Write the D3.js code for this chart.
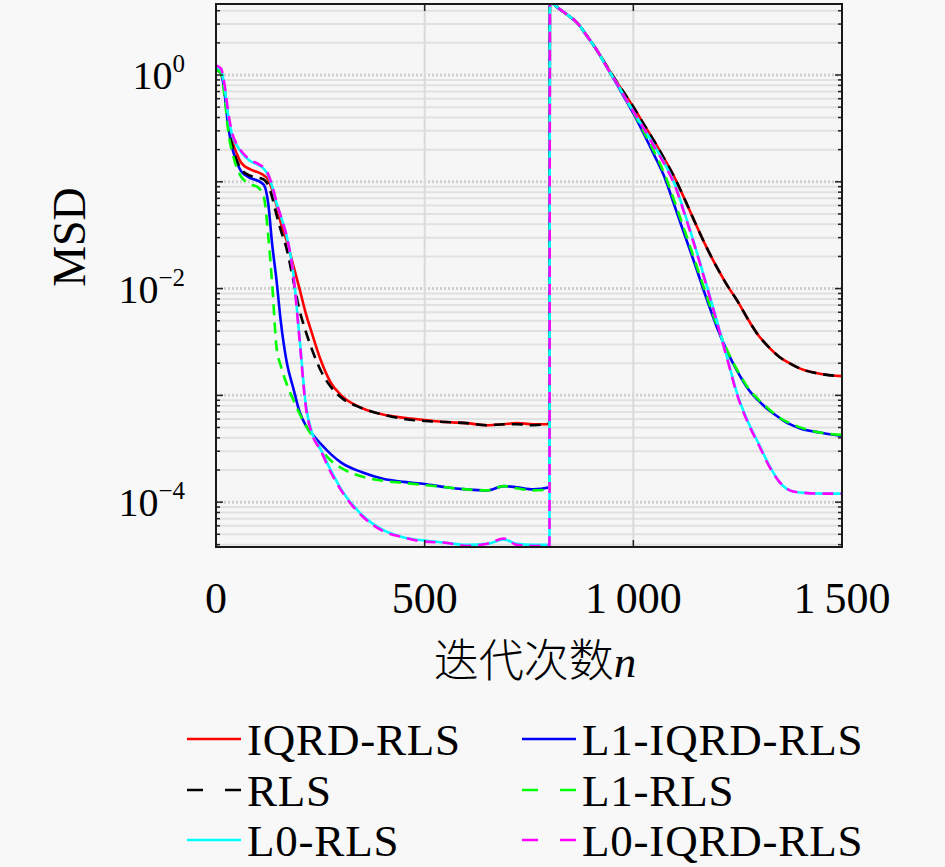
<!DOCTYPE html>
<html>
<head>
<meta charset="utf-8">
<script src="https://cdn.jsdelivr.net/npm/d3@7"></script>
<style>
  body { margin: 0; background: #f8f8f8; }
  svg { display: block; }
</style>
</head>
<body>
<div id="chart"></div>
<script>
const iterations = [0, 12, 20, 30, 40, 50, 60, 80, 100, 115, 125, 135, 145, 155, 170, 185, 200, 215, 230, 250, 275, 300, 350, 400, 450, 500, 550, 600, 650, 690, 720, 760, 799,
  800, 810, 840, 865, 890, 913, 940, 961, 980, 1000, 1025, 1050, 1075, 1100, 1125, 1150, 1175, 1200, 1225, 1250, 1275, 1300, 1325, 1350, 1375, 1400, 1450, 1500];

// MSD read as log10 values (exponent of ten)
const iqrdRls = [0.05, 0.03, -0.12, -0.45, -0.63, -0.74, -0.82, -0.88, -0.91, -0.94, -0.98, -1.08, -1.22, -1.38, -1.56, -1.78, -2.00, -2.23, -2.42, -2.66, -2.88, -3.00, -3.12, -3.18, -3.21, -3.23, -3.25, -3.26, -3.28, -3.27, -3.26, -3.27, -3.27,
  0.70, 0.66, 0.57, 0.49, 0.36, 0.23, 0.06, -0.07, -0.18, -0.30, -0.46, -0.62, -0.79, -0.97, -1.18, -1.40, -1.61, -1.80, -1.97, -2.12, -2.29, -2.44, -2.55, -2.64, -2.70, -2.75, -2.80, -2.82];
const rls = [0.05, 0.02, -0.15, -0.48, -0.68, -0.80, -0.88, -0.94, -0.96, -0.98, -1.03, -1.15, -1.31, -1.45, -1.64, -1.92, -2.20, -2.40, -2.57, -2.76, -2.92, -3.02, -3.12, -3.18, -3.22, -3.24, -3.25, -3.26, -3.28, -3.27, -3.27, -3.28, -3.26,
  0.70, 0.66, 0.57, 0.49, 0.36, 0.23, 0.06, -0.07, -0.18, -0.30, -0.46, -0.62, -0.79, -0.97, -1.18, -1.40, -1.61, -1.80, -1.97, -2.12, -2.29, -2.44, -2.55, -2.64, -2.70, -2.75, -2.80, -2.82];
const l1IqrdRls = [0.05, 0.02, -0.15, -0.50, -0.70, -0.82, -0.90, -0.96, -0.99, -1.03, -1.20, -1.60, -1.92, -2.30, -2.70, -2.93, -3.15, -3.28, -3.36, -3.45, -3.55, -3.63, -3.72, -3.78, -3.81, -3.83, -3.86, -3.88, -3.89, -3.85, -3.86, -3.88, -3.86,
  0.70, 0.66, 0.57, 0.49, 0.36, 0.23, 0.05, -0.09, -0.22, -0.36, -0.55, -0.75, -0.96, -1.24, -1.52, -1.80, -2.09, -2.36, -2.59, -2.78, -2.94, -3.05, -3.14, -3.21, -3.27, -3.31, -3.35, -3.38];
const l1Rls = [0.05, 0.02, -0.18, -0.55, -0.74, -0.87, -0.95, -1.02, -1.05, -1.15, -1.50, -1.98, -2.55, -2.72, -2.90, -3.04, -3.17, -3.28, -3.38, -3.50, -3.61, -3.68, -3.76, -3.80, -3.82, -3.84, -3.86, -3.88, -3.89, -3.85, -3.87, -3.89, -3.88,
  0.70, 0.66, 0.57, 0.49, 0.36, 0.23, 0.05, -0.08, -0.21, -0.35, -0.53, -0.72, -0.93, -1.20, -1.48, -1.77, -2.06, -2.34, -2.58, -2.77, -2.93, -3.04, -3.13, -3.21, -3.26, -3.30, -3.35, -3.37];
const l0Rls = [0.07, 0.05, -0.10, -0.40, -0.58, -0.66, -0.72, -0.80, -0.84, -0.88, -0.94, -1.05, -1.20, -1.32, -1.52, -1.85, -2.45, -3.08, -3.35, -3.50, -3.70, -3.88, -4.12, -4.26, -4.33, -4.36, -4.38, -4.40, -4.39, -4.35, -4.39, -4.40, -4.40,
  0.70, 0.66, 0.57, 0.49, 0.36, 0.23, 0.05, -0.08, -0.21, -0.34, -0.50, -0.66, -0.83, -1.03, -1.32, -1.63, -1.96, -2.30, -2.65, -3.00, -3.25, -3.45, -3.65, -3.81, -3.89, -3.91, -3.92, -3.92];
const l0IqrdRls = [0.09, 0.06, -0.08, -0.37, -0.56, -0.65, -0.71, -0.79, -0.83, -0.87, -0.93, -1.04, -1.19, -1.32, -1.52, -1.86, -2.47, -3.10, -3.36, -3.51, -3.72, -3.89, -4.13, -4.27, -4.33, -4.37, -4.38, -4.41, -4.39, -4.34, -4.40, -4.41, -4.40,
  0.70, 0.66, 0.57, 0.49, 0.36, 0.23, 0.05, -0.08, -0.21, -0.34, -0.50, -0.67, -0.84, -1.04, -1.33, -1.64, -1.97, -2.31, -2.66, -3.01, -3.26, -3.46, -3.66, -3.81, -3.89, -3.91, -3.92, -3.92];

const seriesNames = ["IQRD-RLS", "L1-IQRD-RLS", "RLS", "L1-RLS", "L0-RLS", "L0-IQRD-RLS"];
const seriesValues = [iqrdRls, l1IqrdRls, rls, l1Rls, l0Rls, l0IqrdRls];
const seriesColors = ["#ff0000", "#0000ff", "#000000", "#00ff00", "#00ffff", "#ff00ff"];
const seriesDashed = [false, false, true, true, false, true];

const xTicks = [0, 500, 1000, 1500];
const xTickLabels = ["0", "500", "1\u2009000", "1\u2009500"];
const yTickExps = [0, -2, -4];

// plot box
const W = 945, H = 867;
const box = { left: 216, right: 842, top: 4, bottom: 547 };

const svg = d3.select("#chart").append("svg")
  .attr("width", W).attr("height", H);

svg.append("rect").attr("width", W).attr("height", H).attr("fill", "#f8f8f8");

const x = d3.scaleLinear().domain([0, 1500]).range([box.left, box.right]);
const y = d3.scaleLog().domain([Math.pow(10, -4.42), Math.pow(10, 0.665)]).range([box.bottom, box.top]);

svg.append("rect")
  .attr("x", box.left).attr("y", box.top)
  .attr("width", box.right - box.left).attr("height", box.bottom - box.top)
  .attr("fill", "#f6f6f6");

// grid: minor decade lines, major decades dotted
const minorVals = [], majorVals = [];
for (let k = -5; k <= 0; k++) {
  for (let m = 1; m <= 9; m++) {
    const v = m * Math.pow(10, k);
    if (v < y.domain()[0] || v > y.domain()[1]) continue;
    (m === 1 ? majorVals : minorVals).push(v);
  }
}

const grid = svg.append("g");
grid.selectAll(".minor").data(minorVals).enter().append("line")
  .attr("x1", box.left).attr("x2", box.right)
  .attr("y1", d => y(d)).attr("y2", d => y(d))
  .attr("stroke", "#e1e1e1").attr("stroke-width", 2);
grid.selectAll(".major").data(majorVals).enter().append("line")
  .attr("x1", box.left).attr("x2", box.right)
  .attr("y1", d => y(d)).attr("y2", d => y(d))
  .attr("stroke", "#cfcfcf").attr("stroke-width", 3)
  .attr("stroke-dasharray", "2,2");
grid.selectAll(".vert").data([500, 1000]).enter().append("line")
  .attr("x1", d => x(d)).attr("x2", d => x(d))
  .attr("y1", box.top).attr("y2", box.bottom)
  .attr("stroke", "#dadada").attr("stroke-width", 2);

// curves
svg.append("clipPath").attr("id", "plotclip")
  .append("rect").attr("x", box.left).attr("y", box.top)
  .attr("width", box.right - box.left).attr("height", box.bottom - box.top);

const line = d3.line()
  .x((d, i) => x(iterations[i]))
  .y(d => y(Math.pow(10, d)))
  .curve(d3.curveMonotoneX);

svg.append("g").attr("clip-path", "url(#plotclip)")
  .selectAll("path").data(seriesValues).enter().append("path")
  .attr("d", d => line(d))
  .attr("fill", "none")
  .attr("stroke", (d, i) => seriesColors[i])
  .attr("stroke-width", 2.6)
  .attr("stroke-dasharray", (d, i) => seriesDashed[i] ? "11,7" : null);

// ticks inside the box
const ticks = svg.append("g").attr("stroke", "#222").attr("stroke-width", 1.5);
[500, 1000].forEach(t => {
  ticks.append("line").attr("x1", x(t)).attr("x2", x(t)).attr("y1", box.bottom).attr("y2", box.bottom - 7);
  ticks.append("line").attr("x1", x(t)).attr("x2", x(t)).attr("y1", box.top).attr("y2", box.top + 7);
});
minorVals.concat(majorVals).forEach(v => {
  const len = majorVals.includes(v) ? 7 : 4;
  ticks.append("line").attr("x1", box.left).attr("x2", box.left + len).attr("y1", y(v)).attr("y2", y(v));
  ticks.append("line").attr("x1", box.right).attr("x2", box.right - len).attr("y1", y(v)).attr("y2", y(v));
});

// box
svg.append("rect")
  .attr("x", box.left).attr("y", box.top)
  .attr("width", box.right - box.left).attr("height", box.bottom - box.top)
  .attr("fill", "none").attr("stroke", "#1a1a1a").attr("stroke-width", 2);

const serif = "'Liberation Serif', 'DejaVu Serif', serif";

// x tick labels
svg.append("g").selectAll("text").data(xTicks).enter().append("text")
  .attr("x", d => x(d)).attr("y", 613)
  .attr("text-anchor", "middle")
  .style("font-family", serif).style("font-size", "44px")
  .text((d, i) => xTickLabels[i]);

// y tick labels 10^k
const yLab = svg.append("g").selectAll("text").data(yTickExps).enter().append("text")
  .attr("x", 185).attr("y", d => y(Math.pow(10, d)) + 14)
  .attr("text-anchor", "end")
  .style("font-family", serif).style("font-size", "40px");
yLab.append("tspan").text("10");
yLab.append("tspan").attr("dy", -17).style("font-size", "25px")
  .text(d => d === 0 ? "0" : "\u2212" + (-d));

// axis titles
svg.append("text")
  .attr("transform", "translate(85,237) rotate(-90)")
  .attr("text-anchor", "middle")
  .style("font-family", serif).style("font-size", "46px")
  .text("MSD");

const xt = svg.append("text")
  .attr("x", 535).attr("y", 677)
  .attr("text-anchor", "middle")
  .style("font-size", "45px");
xt.append("tspan").style("font-family", "'Noto Sans CJK SC'").style("font-weight", 300).text("迭代次数");
xt.append("tspan").style("font-family", serif).style("font-style", "italic").text("n");

// legend, two columns filled row by row
const legend = svg.append("g");
const colX = [187, 522], rowY = [739, 790, 840];
seriesNames.forEach((name, i) => {
  const cx = colX[i % 2], cy = rowY[Math.floor(i / 2)];
  legend.append("line")
    .attr("x1", cx).attr("x2", cx + 54).attr("y1", cy).attr("y2", cy)
    .attr("stroke", seriesColors[i]).attr("stroke-width", 2.6)
    .attr("stroke-dasharray", seriesDashed[i] ? "16,22" : null);
  legend.append("text")
    .attr("x", cx + 60).attr("y", cy + 16)
    .style("font-family", serif).style("font-size", "45px")
    .style("letter-spacing", "0.8px")
    .text(name);
});
</script>
</body>
</html>
